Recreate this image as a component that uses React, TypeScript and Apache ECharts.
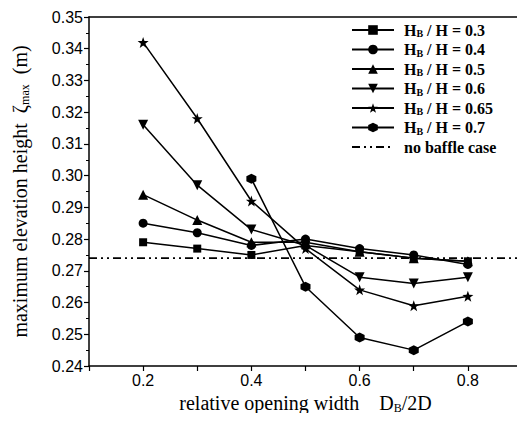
import React, { useEffect, useRef } from "react";
import * as echarts from "echarts";

const xValues = [0.2, 0.3, 0.4, 0.5, 0.6, 0.7, 0.8];
const ratioLabels = ["0.3", "0.4", "0.5", "0.6", "0.65", "0.7"];
const h03 = [0.279, 0.277, 0.275, 0.278, 0.276, 0.274, 0.273];
const h04 = [0.285, 0.282, 0.278, 0.280, 0.277, 0.275, 0.272];
const h05 = [0.294, 0.286, 0.279, 0.279, 0.276, 0.274, 0.273];
const h06 = [0.316, 0.297, 0.283, 0.278, 0.268, 0.266, 0.268];
const h065 = [0.342, 0.318, 0.292, 0.277, 0.264, 0.259, 0.262];
const h07x = [0.4, 0.5, 0.6, 0.7, 0.8];
const h07 = [0.299, 0.265, 0.249, 0.245, 0.254];
const noBaffleX = [0.1, 0.9];
const noBaffle = [0.274, 0.274];
const yTicks = { min: 0.24, max: 0.35, interval: 0.01 };
const xTicks = { min: 0.1, max: 0.9, interval: 0.1 };
const xLabelShown = ["0.2", "0.4", "0.6", "0.8"];

const STAR =
  "path://M0,-10 L2.35,-3.24 L9.51,-3.09 L3.8,1.24 L5.88,8.09 L0,4 L-5.88,8.09 L-3.8,1.24 L-9.51,-3.09 L-2.35,-3.24 Z";
const HEX = "path://M0,-10 L8.66,-5 L8.66,5 L0,10 L-8.66,5 L-8.66,-5 Z";
const DOWN_TRI = "path://M-10,-8 L10,-8 L0,10 Z";

const symbols: [string, number][] = [
  ["rect", 8],
  ["circle", 9],
  ["triangle", 10],
  [DOWN_TRI, 10],
  [STAR, 11],
  [HEX, 10],
];

export default function App() {
  const ref = useRef<HTMLDivElement>(null);
  useEffect(() => {
    if (!ref.current) return;
    const chart = echarts.init(ref.current, undefined, { renderer: "svg" });
    const sets = [h03, h04, h05, h06, h065];
    const names = ratioLabels.map((r) => "HB/H = " + r);
    const series: any[] = names.map((name, i) => {
      const data =
        i < 5
          ? xValues.map((x, j) => [x, sets[i][j]])
          : h07x.map((x, j) => [x, h07[j]]);
      return {
        name,
        type: "line",
        data,
        symbol: symbols[i][0],
        symbolSize: symbols[i][1],
        itemStyle: { color: "#000" },
        lineStyle: { color: "#000", width: 1.5 },
        z: 3,
      };
    });
    series.push({
      name: "no baffle case",
      type: "line",
      data: noBaffleX.map((x, j) => [x, noBaffle[j]]),
      symbol: "none",
      itemStyle: { color: "#000" },
      lineStyle: { color: "#000", width: 1.8, type: [8, 4, 2, 4, 2, 4] },
      z: 2,
    });
    const serif = "Liberation Serif";
    const sans = "Liberation Sans";
    chart.setOption({
      animation: false,
      backgroundColor: "#fff",
      grid: { left: 89, right: 3, top: 17, bottom: 55, containLabel: false },
      legend: {
        orient: "vertical",
        left: 346,
        top: 17,
        itemWidth: 42,
        itemHeight: 12,
        itemGap: 3,
        data: [
          ...names,
          { name: "no baffle case", itemStyle: { color: "transparent", borderWidth: 0, opacity: 0 } },
        ],
        formatter: (n: string) => {
          if (n.startsWith("HB")) {
            return "{b|H}{s|B}{b| / H = " + n.split("= ")[1] + "}";
          }
          return "{b|" + n + "}";
        },
        textStyle: {
          color: "#000",
          fontFamily: serif,
          fontWeight: "bold",
          fontSize: 16,
          padding: [0, 0, 0, 5],
          rich: {
            b: { fontFamily: serif, fontWeight: "bold", fontSize: 16, color: "#000", lineHeight: 19 },
            s: {
              fontFamily: serif,
              fontWeight: "bold",
              fontSize: 10,
              color: "#000",
              padding: [7, 0, 0, 0],
            },
          },
        },
      },
      xAxis: {
        type: "value",
        min: xTicks.min,
        max: xTicks.max,
        interval: xTicks.interval,
        name: "{t|relative opening width    D}{s|B}{t|/2D}",
        nameLocation: "middle",
        nameGap: 23,
        nameTextStyle: {
          color: "#000",
          rich: {
            t: { fontFamily: serif, fontSize: 20, color: "#000" },
            s: { fontFamily: serif, fontSize: 12, color: "#000", padding: [10, 0, 0, 0] },
          },
        },
        axisLine: { show: true, lineStyle: { color: "#000", width: 1.5 } },
        axisTick: { show: true, length: 5, lineStyle: { color: "#000", width: 1.2 } },
        axisLabel: {
          color: "#000",
          fontFamily: sans,
          fontSize: 16,
          margin: 6,
          formatter: (v: number) => {
            const s = v.toFixed(1);
            return xLabelShown.includes(s) ? s : "";
          },
        },
        splitLine: { show: false },
      },
      yAxis: {
        type: "value",
        min: yTicks.min,
        max: yTicks.max,
        interval: yTicks.interval,
        name: "{t|maximum elevation height  ζ}{s|max}{t|  (m)}",
        nameLocation: "middle",
        nameGap: 58,
        nameTextStyle: {
          color: "#000",
          rich: {
            t: { fontFamily: serif, fontSize: 20, color: "#000" },
            s: { fontFamily: serif, fontSize: 12, color: "#000", padding: [10, 0, 0, 0] },
          },
        },
        axisLine: { show: true, lineStyle: { color: "#000", width: 1.5 } },
        axisTick: { show: true, length: 5, lineStyle: { color: "#000", width: 1.2 } },
        minorTick: { show: true, splitNumber: 2, length: 3, lineStyle: { color: "#000" } },
        axisLabel: {
          color: "#000",
          fontFamily: sans,
          fontSize: 16,
          margin: 6,
          formatter: (v: number) => v.toFixed(2),
        },
        splitLine: { show: false },
      },
      series,
    });
    chart.setOption({
      xAxis: [
        {},
        {
          type: "value",
          position: "top",
          min: xTicks.min,
          max: xTicks.max,
          axisLine: { show: true, onZero: false, lineStyle: { color: "#000", width: 1.5 } },
          axisTick: { show: false },
          axisLabel: { show: false },
          splitLine: { show: false },
        },
      ],
      yAxis: [
        {},
        {
          type: "value",
          position: "right",
          min: yTicks.min,
          max: yTicks.max,
          axisLine: { show: true, onZero: false, lineStyle: { color: "#000", width: 1.5 } },
          axisTick: { show: false },
          axisLabel: { show: false },
          splitLine: { show: false },
        },
      ],
    });
    return () => chart.dispose();
  }, []);
  return <div ref={ref} style={{ width: 525, height: 421, margin: -8 }} />;
}
